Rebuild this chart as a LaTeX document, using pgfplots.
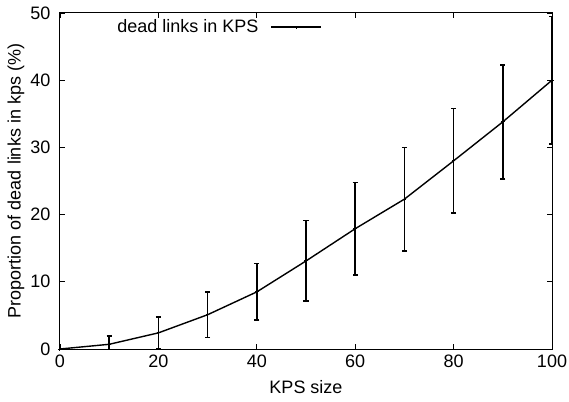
\documentclass[border=0pt]{standalone}
\usepackage{fontspec}
\setmainfont{Liberation Sans}
\usepackage{pgfplots}
\pgfplotsset{compat=1.18}
\begin{document}
\begin{tikzpicture}
\begin{axis}[
  name=main, at={(0pt,0pt)}, anchor=south west,
  scale only axis,
  width=492pt, height=336pt,
  xmin=0, xmax=100, ymin=0, ymax=50,
  xtick={0,20,...,100}, ytick={0,10,...,50},
  tick align=inside, major tick length=5pt,
  tick style={black, line width=0.8pt},
  axis line style={line width=1pt},
  /pgf/number format/assume math mode=true,
  tick label style={font=\fontsize{18}{21}\selectfont},
  yticklabel style={xshift=-6pt},
  xticklabel style={yshift=-2pt},
  every axis x label/.style={at={(axis description cs:0.5,0)}, anchor=base, yshift=-44pt,
    font=\fontsize{18}{21}\selectfont},
  every axis y label/.style={at={(axis description cs:-0.0894,0.5)}, anchor=center, rotate=90,
    font=\fontsize{18}{21}\selectfont},
  xlabel={KPS size},
  ylabel={Proportion of dead links in kps (\%)},
  legend plot pos=right,
  legend style={at={(0.5325,0.958)}, anchor=east, draw=none, fill=none,
    font=\fontsize{18}{21}\selectfont, inner sep=0pt,
    /tikz/column 1/.style={column sep=10pt}},
  legend image code/.code={
    \draw[line width=1.4pt] (0pt,0pt) -- (50pt,0pt);
    \draw[line width=1pt] (25pt,-1.5pt) -- (25pt,1.5pt);
  },
]
\addplot[black, line width=1.4pt, mark=+, mark size=1.8pt,
  mark options={line width=1pt},
  error bars/.cd, y dir=both, y explicit,
  error bar style={line width=1.6pt},
  error mark options={rotate=90, mark size=2.6pt, line width=1.6pt}]
coordinates {
  (0,0) +- (0,0)
  (10,0.7) +- (0,1.2)
  (20,2.4) +- (0,2.4)
  (30,5.1) +- (0,3.4)
  (40,8.5) +- (0,4.2)
  (50,13.1) +- (0,6.0)
  (60,17.9) +- (0,6.9)
  (70,22.3) +- (0,7.7)
  (80,28.0) +- (0,7.8)
  (90,33.8) +- (0,8.5)
  (100,40.0) +- (0,9.5)
};
\addlegendentry{dead links in KPS}
\end{axis}
\pgfresetboundingbox
\path[use as bounding box] (-60pt,-52pt) rectangle (509pt,349pt);
\end{tikzpicture}
\end{document}
